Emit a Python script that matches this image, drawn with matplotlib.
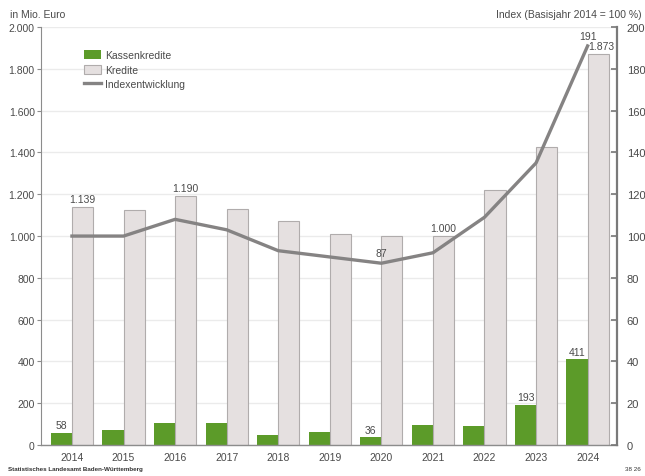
import matplotlib.pyplot as plt
import numpy as np
from matplotlib.patches import Patch
from matplotlib.lines import Line2D
from matplotlib.ticker import FuncFormatter

plt.rcParams["font.family"] = ["Liberation Sans", "DejaVu Sans"]

years = ["2014", "2015", "2016", "2017", "2018", "2019", "2020", "2021", "2022", "2023", "2024"]
kassenkredite = [58, 73, 105, 107, 50, 64, 36, 97, 91, 193, 411]
kredite = [1139, 1125, 1190, 1130, 1070, 1012, 1000, 1000, 1220, 1425, 1873]
index = [100, 100, 108, 103, 93, 90, 87, 92, 109, 135, 191]

# welche Werte beschriftet werden
kk_labels = {0: "58", 6: "36", 9: "193", 10: "411"}
kr_labels = {0: "1.139", 2: "1.190", 7: "1.000", 10: "1.873"}
idx_labels = {6: "87", 10: "191"}

green = "#5c9b29"
grey_fill = "#e5e0e0"
grey_edge = "#b0acac"
line_col = "#858383"
text_col = "#4a4a4a"
axis_col = "#8c8c8c"

x = np.arange(len(years))
w = 0.41

fig = plt.figure(figsize=(6.45, 4.77), dpi=100)
ax = fig.add_axes([0.0636, 0.065, 0.893, 0.876])
ax2 = ax.twinx()

ax.set_axisbelow(True)
ax.yaxis.grid(True, color="#ebebeb", linewidth=1)
ax.bar(x - w / 2, kassenkredite, width=w, color=green, zorder=2)
ax.bar(x + w / 2, kredite, width=w, color=grey_fill, edgecolor=grey_edge, linewidth=0.8, zorder=2)

ax2.plot(x, index, color=line_col, linewidth=2.4, zorder=3)

ax.set_xlim(-0.6, len(years) - 1 + 0.57)
ax.set_ylim(0, 2000)
ax2.set_ylim(0, 200)
ax.set_yticks(np.arange(0, 2001, 200))
ax2.set_yticks(np.arange(0, 201, 20))
ax.yaxis.set_major_formatter(FuncFormatter(lambda v, p: f"{int(v):,}".replace(",", ".")))

ax.set_xticks(x)
ax.set_xticklabels(years)
ax.tick_params(axis="x", length=0, pad=5, labelsize=7.5, labelcolor=text_col)
ax.tick_params(axis="y", length=3, width=0.8, color=axis_col, pad=1.5, labelsize=7.5, labelcolor=text_col)
ax2.tick_params(axis="y", direction="in", length=4, width=1.2, color="#777777", pad=7,
                labelsize=8, labelcolor=text_col)
for lab in ax2.get_yticklabels():
    lab.set_horizontalalignment("left")

ax.spines["top"].set_visible(False)
ax2.spines["top"].set_visible(False)
ax.spines["left"].set_color(axis_col)
ax.spines["left"].set_linewidth(0.8)
ax.spines["bottom"].set_color(axis_col)
ax.spines["bottom"].set_linewidth(1.0)
ax2.spines["left"].set_visible(False)
ax2.spines["bottom"].set_visible(False)
ax.spines["right"].set_visible(False)
ax2.spines["right"].set_color("#7a7a7a")
ax2.spines["right"].set_linewidth(1.6)

for i, t in kk_labels.items():
    ax.text(x[i] - w / 2, kassenkredite[i] + 12, t, ha="center", va="bottom", fontsize=7.5, color=text_col)
for i, t in kr_labels.items():
    ax.text(x[i] + w / 2 + (0.06 if i == 10 else 0), kredite[i] + 14, t, ha="center", va="bottom",
            fontsize=7.5, color=text_col)
for i, t in idx_labels.items():
    ax2.text(x[i], index[i] + 2.5, t, ha="center", va="bottom", fontsize=7.5, color=text_col)

handles = [
    Patch(facecolor=green, edgecolor="none"),
    Patch(facecolor=grey_fill, edgecolor=grey_edge, linewidth=0.8),
    Line2D([], [], color=line_col, linewidth=2.4),
]
leg = ax.legend(handles, ["Kassenkredite", "Kredite", "Indexentwicklung"], loc="upper left",
                bbox_to_anchor=(0.068, 0.955), frameon=False, fontsize=7.5, handlelength=1.6,
                handleheight=1.0, handletextpad=0.4, labelspacing=0.4, borderaxespad=0)
for t in leg.get_texts():
    t.set_color(text_col)

fig.text(0.016, 0.968, "in Mio. Euro", fontsize=7.5, color=text_col, va="center")
fig.text(0.995, 0.968, "Index (Basisjahr 2014 = 100 %)", fontsize=7.5, color=text_col,
         va="center", ha="right")
fig.text(0.012, 0.01, "Statistisches Landesamt Baden-Württemberg", fontsize=4.5, color="#333333",
         va="bottom", fontweight="bold")
fig.text(0.993, 0.01, "38 26", fontsize=4.5, color="#333333", va="bottom", ha="right")

fig.savefig("out.png", dpi=100)
